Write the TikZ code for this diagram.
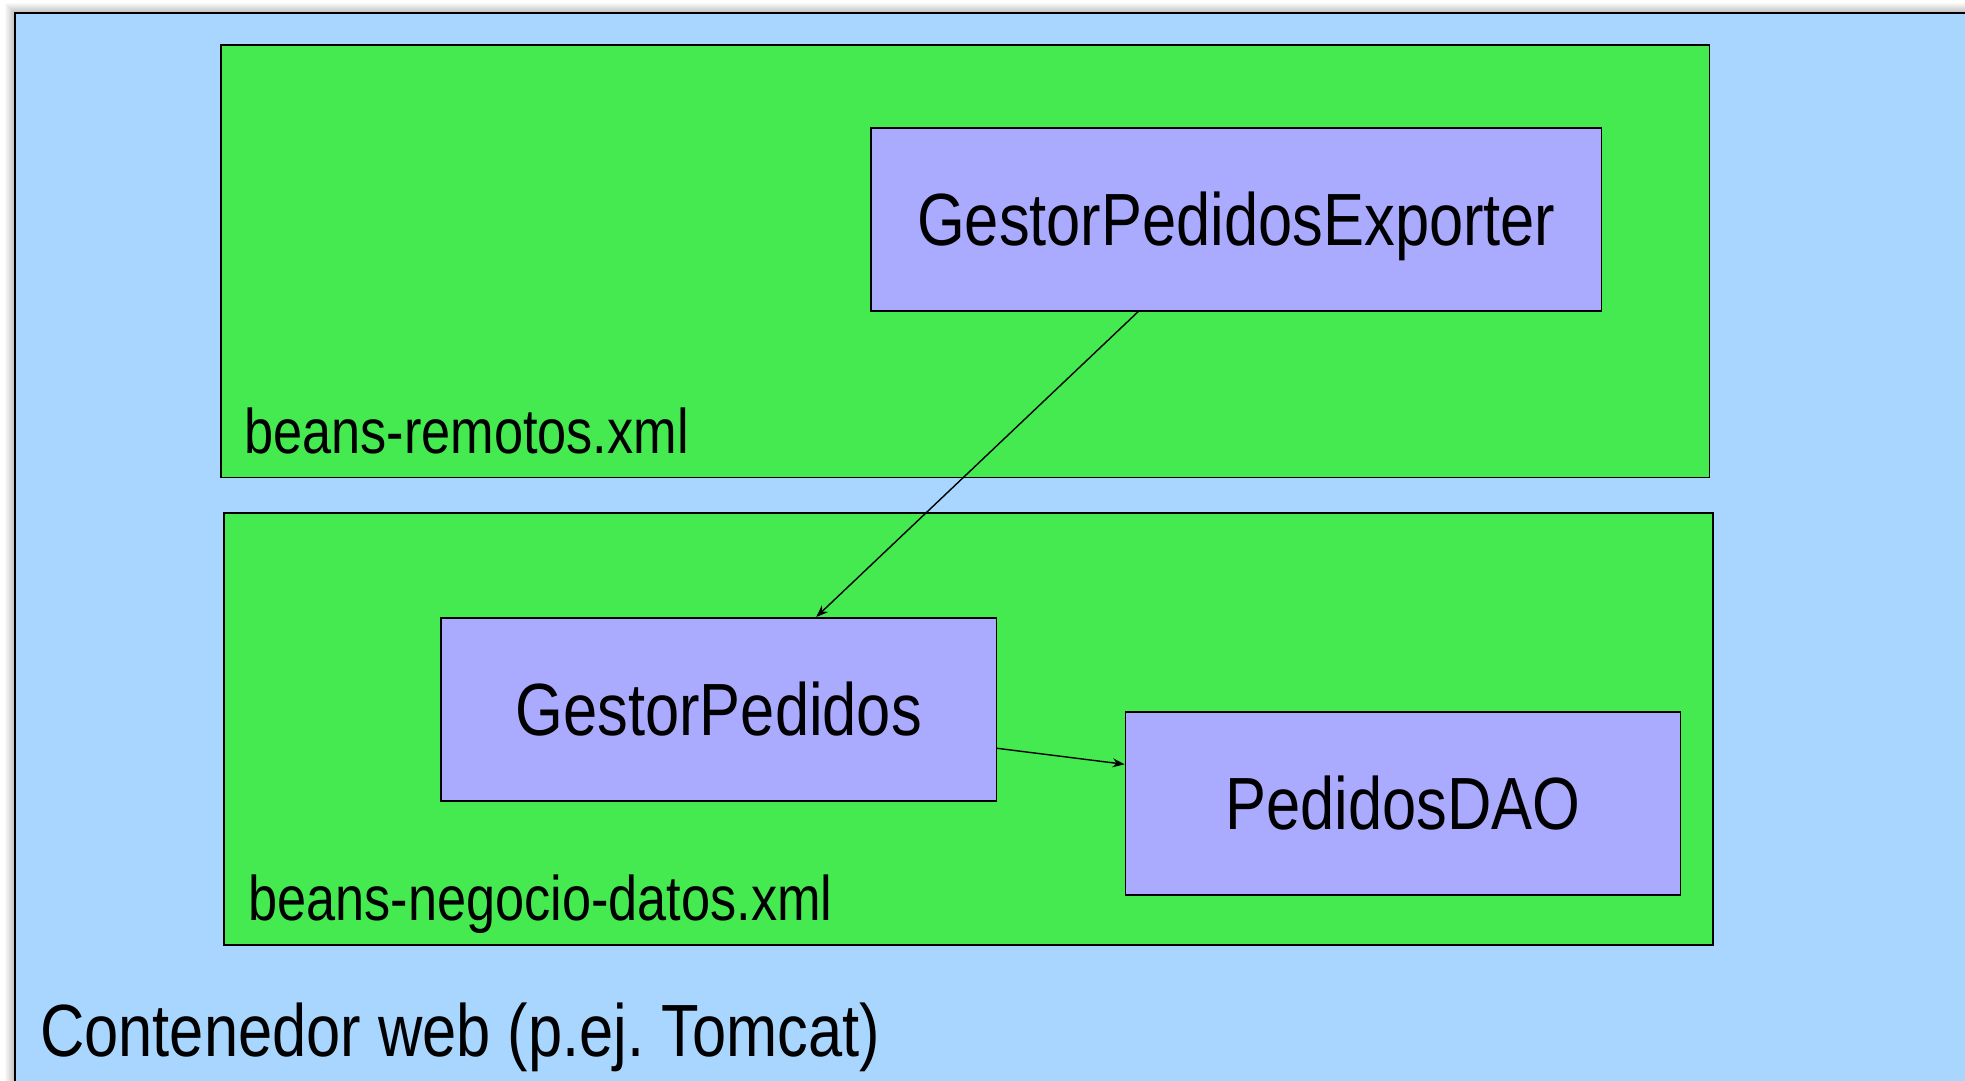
\documentclass[tikz,border=0pt]{standalone}
\usepackage{fontspec}
\setmainfont[FakeStretch=0.83]{Liberation Sans}
\usetikzlibrary{arrows.meta}
\definecolor{webblue}{HTML}{A9D6FE}
\definecolor{beangreen}{HTML}{44EA50}
\definecolor{beanpurple}{HTML}{AAAAFF}
\frenchspacing
\tikzset{
  x=1pt, y=-1pt,
  filebox/.style={draw=black, line width=1.8pt, fill=beangreen},
  beanbox/.style={draw=black, line width=1.6pt, fill=beanpurple, inner sep=0pt,
    text height=53pt, text depth=0pt, font=\fontsize{74}{80}\selectfont},
  filelabel/.style={anchor=base west, inner sep=0pt, font=\fontsize{63}{70}\selectfont},
  conn/.style={line width=1.4pt, -{Stealth[length=12pt,width=9pt]}},
}
\begin{document}
\begin{tikzpicture}
\useasboundingbox (0,0) rectangle (1965,1081);
\fill[white] (0,0) rectangle (1965,1081);
% soft shadow around the container
\foreach \i in {1,...,10}{
  \fill[black, opacity=0.025] (15-\i,13-\i) rectangle (2000,1100);
}
% container
\draw[line width=2.4pt, fill=webblue] (15,13) rectangle (1990,1100);
\node[anchor=base west, inner sep=0pt, font=\fontsize{74}{80}\selectfont] (cont) at (40,1056) {Contenedor web (p.ej. Tomcat)};
% file boxes
\draw[filebox] (220.6,45) rectangle (1709.4,477.5);
\node[filelabel] (remotos) at (244,453) {beans-remotos.xml};
\draw[filebox] (224.3,512.6) rectangle (1713.1,945);
\node[filelabel] (negocio) at (248,920) {beans-negocio-datos.xml};
% beans
\node[beanbox, minimum width=730.6pt, minimum height=183pt] (exp) at (1236.3,219.3) {GestorPedidosExporter};
\node[beanbox, minimum width=555.3pt, minimum height=183pt] (gp) at (718.7,709.3) {GestorPedidos};
\node[beanbox, minimum width=555.2pt, minimum height=183pt] (dao) at (1403,803.3) {PedidosDAO};
% connectors
\draw[conn] ([xshift=268pt]exp.south west) -- ([xshift=376pt]gp.north west);
\draw[conn] ([yshift=-39pt]gp.east) -- ([yshift=39pt]dao.west);
\end{tikzpicture}
\end{document}
